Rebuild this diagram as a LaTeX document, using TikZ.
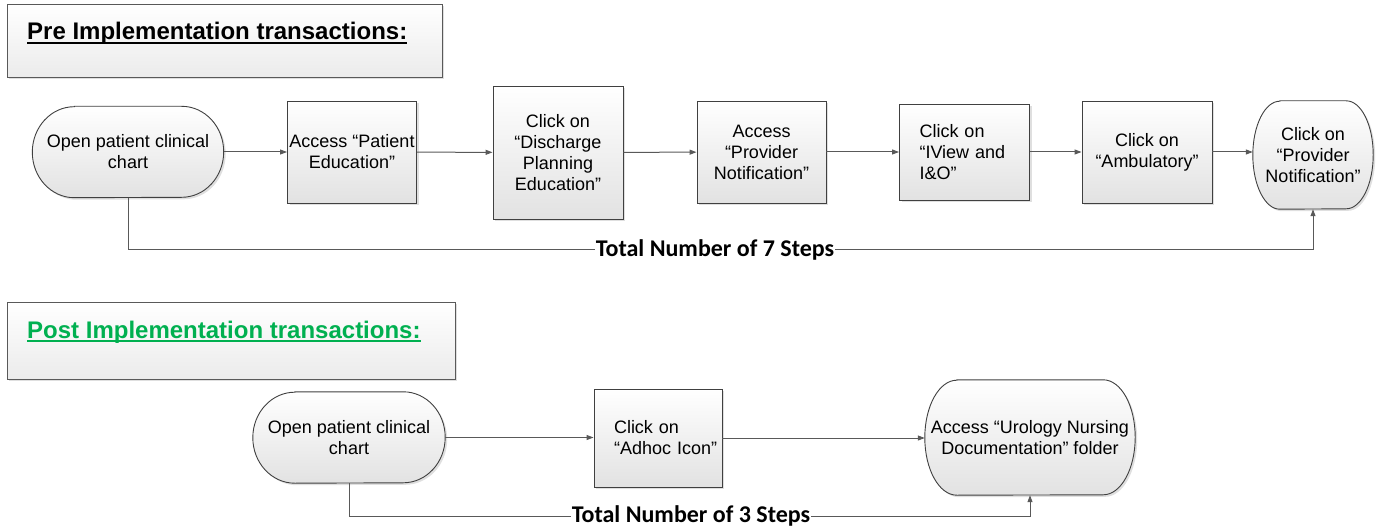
\documentclass[tikz,border=0pt]{standalone}
\usepackage{fontspec}
\setmainfont{Liberation Sans}
\newfontfamily\calib{Carlito}
\usetikzlibrary{arrows.meta,shadows,backgrounds}
\definecolor{lc}{HTML}{595959}
\definecolor{bc}{HTML}{404040}
\definecolor{gfill}{HTML}{E2E2E2}
\definecolor{tfill}{HTML}{EBEBEB}
\definecolor{pgreen}{HTML}{00B050}
\tikzset{
  x=1pt, y=1pt,
  nodefont/.style={font=\fontsize{18}{21}\selectfont},
  shapefill/.style={draw=bc, line width=0.9pt, top color=white, bottom color=gfill,
    drop shadow={shadow xshift=2pt,shadow yshift=-2pt,opacity=.25}},
  box/.style={shapefill, nodefont, align=center, inner sep=0pt},
  leftbox/.style={shapefill, nodefont, align=left, inner xsep=20pt, inner ysep=0pt},
  term/.style={nodefont, align=center, inner sep=0pt},
  titlebox/.style={draw=lc, line width=0.9pt, top color=white, bottom color=tfill,
    drop shadow={shadow xshift=2pt,shadow yshift=-2pt,opacity=.25}, inner sep=0pt},
  titletext/.style={font=\bfseries\fontsize{24}{28}\selectfont, inner sep=0pt, anchor=base west},
  conn/.style={draw=lc, line width=1pt},
  arr/.style={conn, -{Triangle[length=7pt,width=5pt]}},
  total/.style={fill=white, inner xsep=1pt, inner ysep=1pt, anchor=base,
    font=\calib\bfseries\fontsize{24}{28}\selectfont},
}
\newcommand\termpath[3]{%
  \draw[shapefill] ([xshift=#2]#1.north west) -- ([xshift=-#2]#1.north east)
    arc[start angle=90,end angle=-90,x radius=#2,y radius=#3]
    -- ([xshift=#2]#1.south west)
    arc[start angle=270,end angle=90,x radius=#2,y radius=#3] -- cycle;}
\begin{document}
\begin{tikzpicture}
\useasboundingbox (0,0) rectangle (1378,531);
% ---- titles
\node[titlebox, minimum width=435pt, minimum height=73pt] (T1) at (224.5,490.5) {};
\node[titletext] (T1t) at (27,491) {Pre Implementation transactions:};
\draw[line width=1.8pt] ([yshift=-3pt]T1t.base west) -- ([yshift=-3pt]T1t.base east);
\node[titlebox, minimum width=448pt, minimum height=77pt] (T2) at (231,190.5) {};
\node[titletext, text=pgreen] (T2t) at (27,193) {Post Implementation transactions:};
\draw[pgreen, line width=1.8pt] ([yshift=-3pt]T2t.base west) -- ([yshift=-3pt]T2t.base east);
% ---- pre nodes
\node[term, minimum width=191pt, minimum height=91pt] (A) at (128,379) {Open patient clinical\\chart};
\node[box, minimum width=129pt, minimum height=102pt] (B) at (352,379) {Access “Patient\\Education”};
\node[box, minimum width=130pt, minimum height=133pt] (C) at (558,378.5) {Click on\\“Discharge\\Planning\\Education”};
\node[box, minimum width=129pt, minimum height=102pt] (D) at (761.5,379) {Access\\“Provider\\Notification”};
\node[leftbox, text width=90pt, minimum height=96pt] (E) at (964.5,379) {Click on\\\mbox{“IView and}\\I\&O”};
\node[box, minimum width=130pt, minimum height=102pt] (F) at (1147,379) {Click on\\“Ambulatory”};
\node[term, minimum width=120pt, minimum height=108pt] (G) at (1313,376) {Click on\\“Provider\\Notification”};
% ---- post nodes
\node[term, minimum width=192pt, minimum height=91pt] (H) at (349,93.5) {Open patient clinical\\chart};
\node[leftbox, text width=88pt, minimum height=98pt] (I) at (658,93) {Click on\\\mbox{“Adhoc Icon”}};
\node[term, minimum width=210pt, minimum height=115pt] (J) at (1030,93.5) {Access “Urology Nursing\\Documentation” folder};
\begin{scope}[on background layer]
  \termpath{A}{42pt}{45.5pt}
  \termpath{G}{27pt}{54pt}
  \termpath{H}{42pt}{45.5pt}
  \termpath{J}{32pt}{57.5pt}
\end{scope}
% ---- connectors
\draw[arr] (A) -- (B);
\draw[arr] (B) -- (C);
\draw[arr] (C) -- (D);
\draw[arr] (D) -- (E);
\draw[arr] (E) -- (F);
\draw[arr] (F.east) -- (F.east -| G.west);
\coordinate (L7) at (0,282);
\draw[arr] (A.south) -- (A.south |- L7) -- (G.south |- L7) -- (G.south);
\node[total] (t7) at (715,275) {Total Number of 7 Steps};
\draw[arr] (H.east) -- (H.east -| I.west);
\draw[arr] (I.east) -- (I.east -| J.west);
\coordinate (L3) at (0,15);
\draw[arr] (H.south) -- (H.south |- L3) -- (J.south |- L3) -- (J.south);
\node[total] (t3) at (691,8.5) {Total Number of 3 Steps};
\end{tikzpicture}
\end{document}
